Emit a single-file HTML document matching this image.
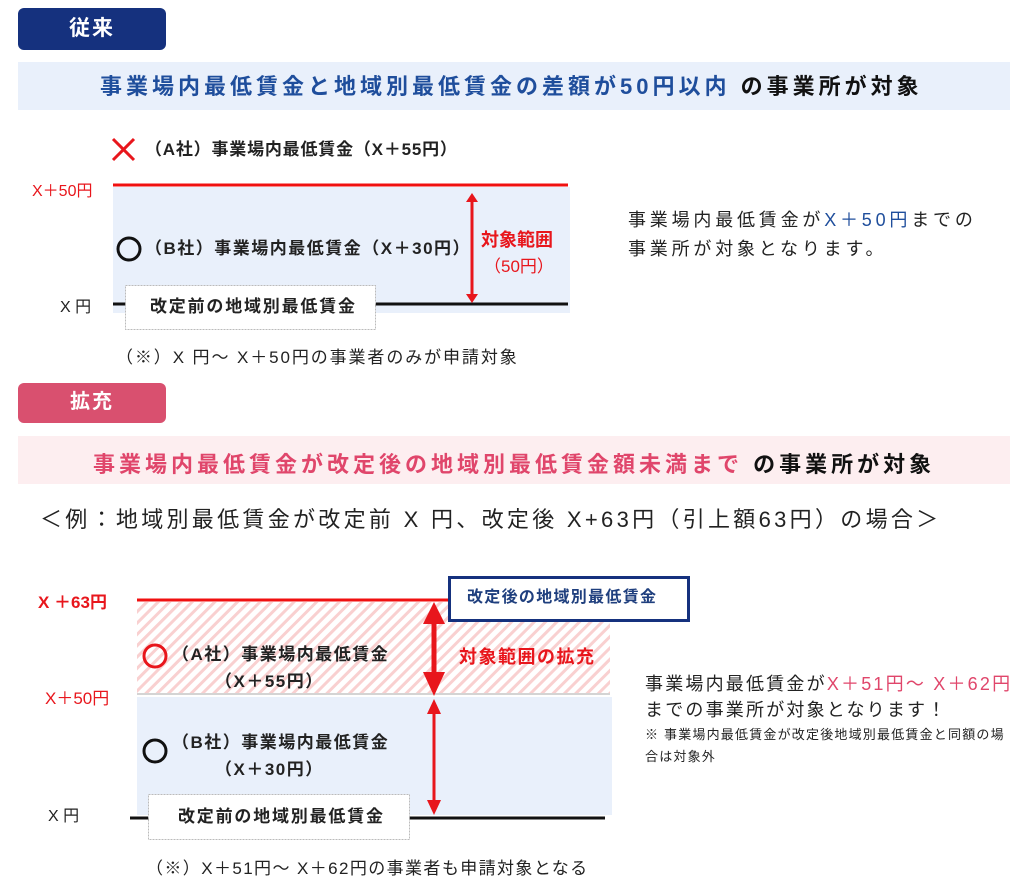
<!DOCTYPE html>
<html><head><meta charset="utf-8"><style>
body{margin:0;width:1024px;height:880px;background:#fff;position:relative;overflow:hidden;font-family:"Liberation Sans","Noto Sans CJK JP",sans-serif;color:#222}
.a{position:absolute;white-space:nowrap;line-height:1}
.b{font-weight:bold}
</style></head><body>
<svg width="1024" height="880" style="position:absolute;left:0;top:0">
<defs>
<pattern id="h" width="8" height="8" patternUnits="userSpaceOnUse" patternTransform="rotate(45)">
<rect width="8" height="8" fill="#fff"/><rect width="3" height="8" fill="#f9d0d0"/>
</pattern>
</defs>
<rect x="18" y="8" width="148" height="42" rx="6" fill="#15317e"/>
<rect x="18" y="62" width="992" height="48" fill="#e9f0fb"/>
<rect x="113" y="187" width="457" height="126" fill="#e9f0fb"/>
<line x1="113" y1="185" x2="568" y2="185" stroke="#f01010" stroke-width="3"/>
<line x1="113" y1="304" x2="568" y2="304" stroke="#111" stroke-width="3"/>
<path d="M113,139L134,160M134,139L113,160" stroke="#e8161c" stroke-width="3"/>
<circle cx="129" cy="249" r="11" fill="none" stroke="#111" stroke-width="3"/>
<line x1="472" y1="200" x2="472" y2="296" stroke="#e8161c" stroke-width="3"/>
<path d="M466,202L472,193L478,202z M466,294L472,303L478,294z" fill="#e8161c"/>
<rect x="125.5" y="285.5" width="250" height="44" fill="#fff" stroke="#bbb" stroke-dasharray="2,1"/>
<rect x="18" y="383" width="148" height="40" rx="6" fill="#d9506f"/>
<rect x="18" y="436" width="992" height="48" fill="#fdeef0"/>
<rect x="137" y="602" width="473" height="91" fill="url(#h)"/>
<line x1="137" y1="694" x2="610" y2="694" stroke="#aaa" stroke-width="1"/>
<rect x="137" y="697" width="475" height="118" fill="#e9f0fb"/>
<line x1="137" y1="600" x2="448" y2="600" stroke="#f01010" stroke-width="3"/>
<line x1="130" y1="818" x2="605" y2="818" stroke="#111" stroke-width="3"/>
<rect x="449.5" y="577.5" width="239" height="43" fill="#fff" stroke="#15317e" stroke-width="3"/>
<line x1="434" y1="620" x2="434" y2="676" stroke="#e8161c" stroke-width="5"/>
<path d="M423,624L434,602L445,624z M423,672L434,696L445,672z" fill="#e8161c"/>
<line x1="434" y1="712" x2="434" y2="800" stroke="#e8161c" stroke-width="3"/>
<path d="M427,714L434,699L441,714z M427,800L434,815L441,800z" fill="#e8161c"/>
<circle cx="155" cy="656" r="11" fill="none" stroke="#e8161c" stroke-width="3"/>
<circle cx="155" cy="751" r="11" fill="none" stroke="#111" stroke-width="3"/>
<rect x="148.5" y="794.5" width="261" height="45" fill="#fff" stroke="#bbb" stroke-dasharray="2,1"/>
</svg>
<div class="a b" style="left:18px;width:148px;text-align:center;top:18px;font-size:21px;color:#fff;letter-spacing:2px">従来</div>
<div class="a b" style="left:100px;top:76px;font-size:22px;color:#1f4e9c;letter-spacing:4px">事業場内最低賃金と地域別最低賃金の差額が50円以内 <span style="color:#111">の事業所が対象</span></div>
<div class="a b" style="left:145px;top:141px;font-size:17px;letter-spacing:0.8px">（A社）事業場内最低賃金（X＋55円）</div>
<div class="a" style="left:32px;top:184px;font-size:16px;color:#e8161c">X＋50円</div>
<div class="a b" style="left:145px;top:240px;font-size:17px;letter-spacing:1.5px">（B社）事業場内最低賃金（X＋30円）</div>
<div class="a b" style="left:481px;top:231px;font-size:18px;color:#e8161c">対象範囲</div>
<div class="a" style="left:484px;top:258px;font-size:17px;color:#e8161c">（50円）</div>
<div class="a" style="left:60px;top:300px;font-size:16px">X 円</div>
<div class="a b" style="left:150px;top:298px;font-size:17px;letter-spacing:1.8px">改定前の地域別最低賃金</div>
<div class="a" style="left:116px;top:349px;font-size:17px;letter-spacing:1.9px">（※）X 円～ X＋50円の事業者のみが申請対象</div>
<div class="a" style="left:628px;top:211px;font-size:18px;letter-spacing:3.8px">事業場内最低賃金が<span style="color:#1f4e9c">X＋50円</span>までの</div>
<div class="a" style="left:628px;top:240px;font-size:18px;letter-spacing:3.8px">事業所が対象となります。</div>
<div class="a b" style="left:18px;width:148px;text-align:center;top:392px;font-size:20px;color:#fff;letter-spacing:2px">拡充</div>
<div class="a b" style="left:93px;top:454px;font-size:22px;color:#e0466b;letter-spacing:4px">事業場内最低賃金が改定後の地域別最低賃金額未満まで <span style="color:#111">の事業所が対象</span></div>
<div class="a" style="left:40px;top:509px;font-size:22px;letter-spacing:3.3px">＜例：地域別最低賃金が改定前 X 円、改定後 X+63円（引上額63円）の場合＞</div>
<div class="a b" style="left:38px;top:594px;font-size:17px;color:#e8161c">X ＋63円</div>
<div class="a" style="left:45px;top:690px;font-size:17px;color:#e8161c">X＋50円</div>
<div class="a" style="left:48px;top:809px;font-size:16px">X 円</div>
<div class="a b" style="left:467px;top:590px;font-size:16px;color:#1f3f7e;letter-spacing:1.3px">改定後の地域別最低賃金</div>
<div class="a b" style="left:459px;top:648px;font-size:18px;color:#e8161c;letter-spacing:1.5px">対象範囲の拡充</div>
<div class="a b" style="left:172px;top:646px;font-size:17px;letter-spacing:1.5px">（A社）事業場内最低賃金</div>
<div class="a b" style="left:215px;top:673px;font-size:17px;letter-spacing:1.5px">（X＋55円）</div>
<div class="a b" style="left:172px;top:734px;font-size:17px;letter-spacing:1.5px">（B社）事業場内最低賃金</div>
<div class="a b" style="left:215px;top:761px;font-size:17px;letter-spacing:1.5px">（X＋30円）</div>
<div class="a b" style="left:178px;top:808px;font-size:17px;letter-spacing:1.8px">改定前の地域別最低賃金</div>
<div class="a" style="left:146px;top:860px;font-size:17px;letter-spacing:1.4px">（※）X＋51円～ X＋62円の事業者も申請対象となる</div>
<div class="a" style="left:645px;top:675px;font-size:18px;letter-spacing:2.2px">事業場内最低賃金が<span style="color:#e0466b">X＋51円～ X＋62円</span></div>
<div class="a" style="left:645px;top:701px;font-size:18px;letter-spacing:2.2px">までの事業所が対象となります！</div>
<div class="a" style="left:645px;top:728px;font-size:13px;letter-spacing:1.2px">※ 事業場内最低賃金が改定後地域別最低賃金と同額の場</div>
<div class="a" style="left:645px;top:750px;font-size:13px;letter-spacing:1.2px">合は対象外</div>
</body></html>
